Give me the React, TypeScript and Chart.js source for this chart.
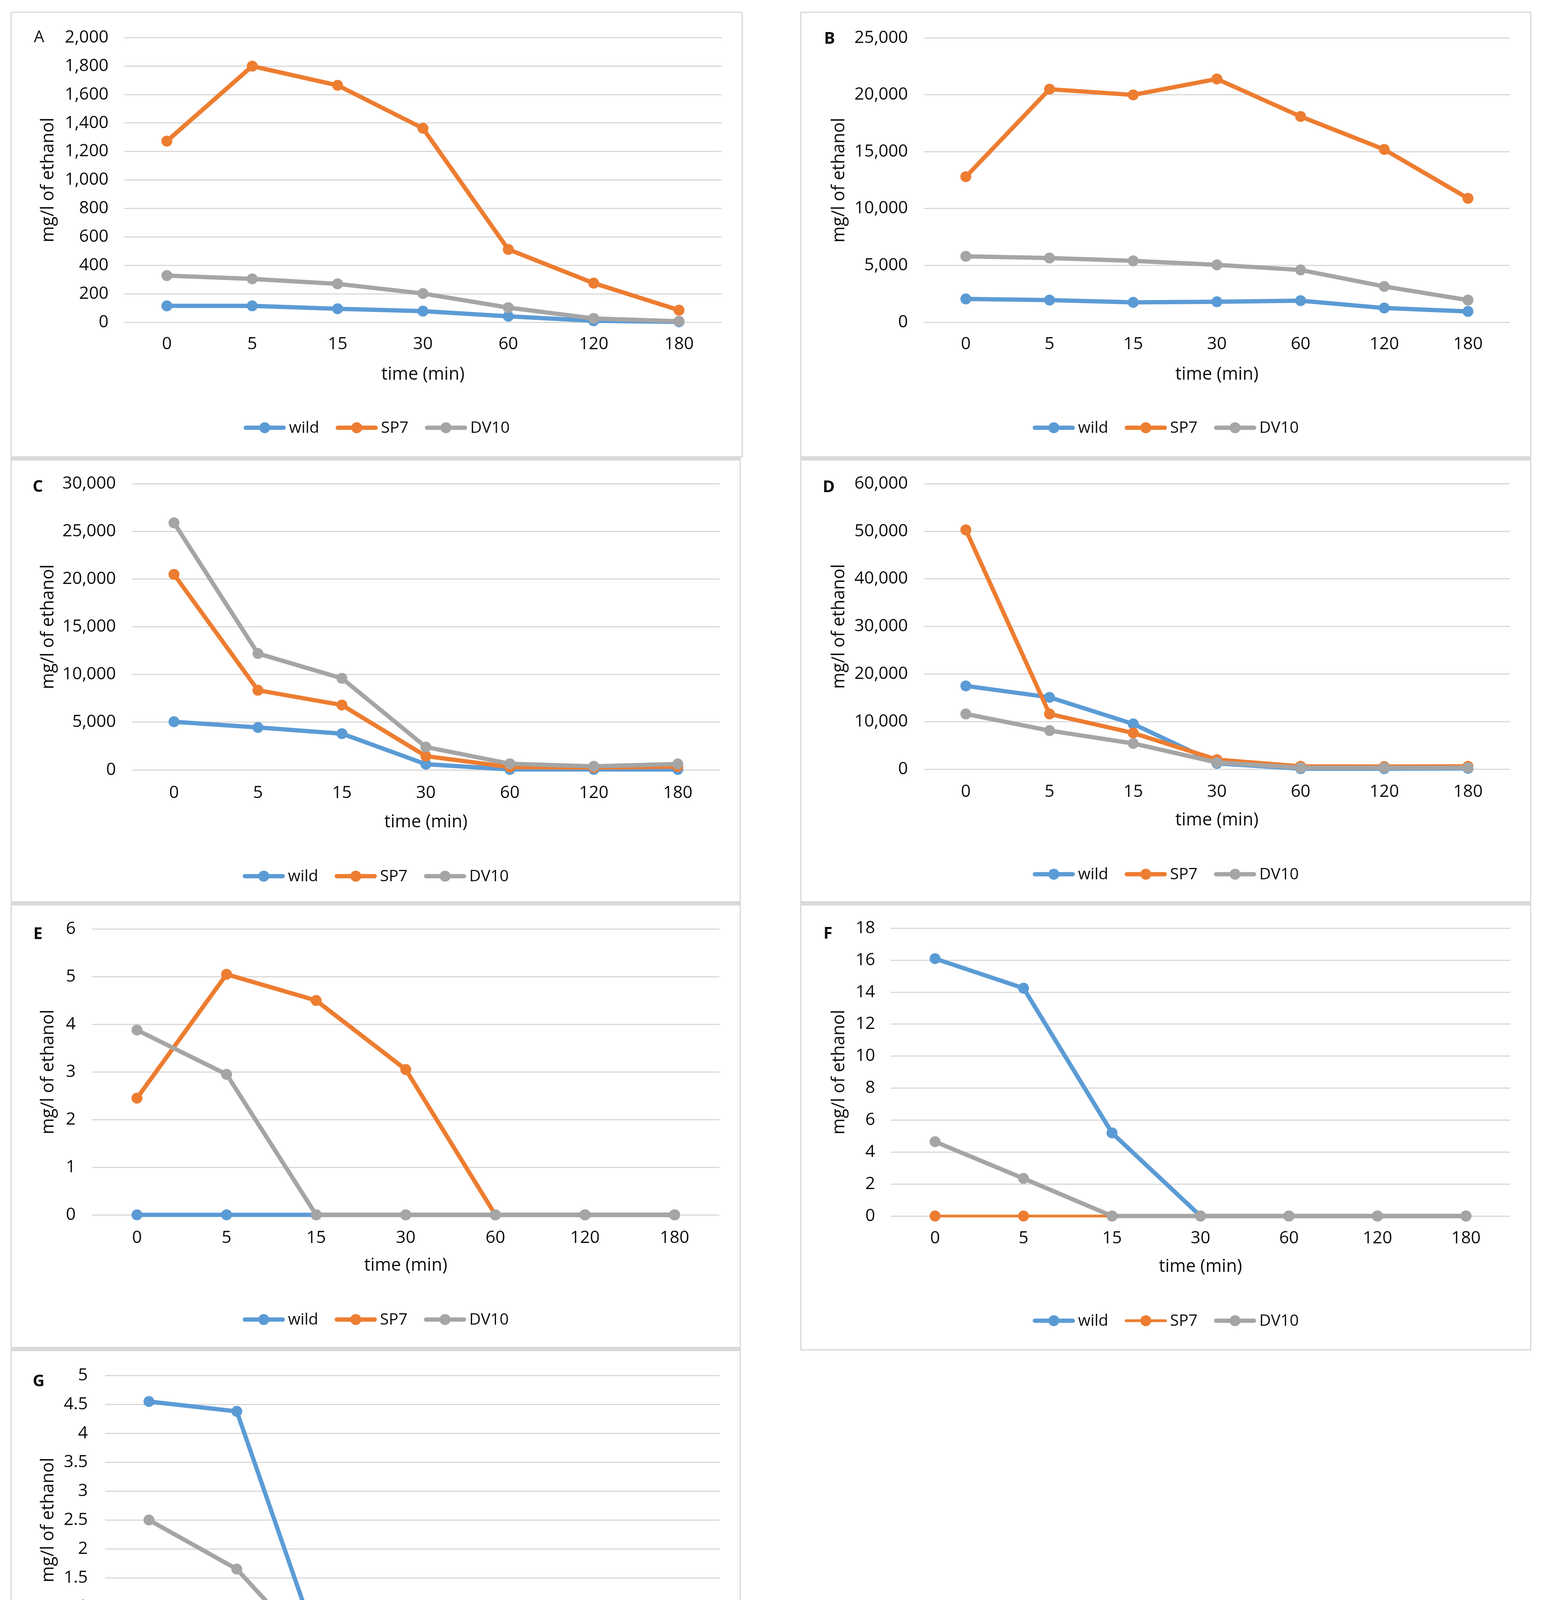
import React, { useEffect, useRef } from 'react';
import { Chart, registerables } from 'chart.js';

Chart.register(...registerables);

// ---------- data ----------
const timeLabels = ['0', '5', '15', '30', '60', '120', '180'];
const seriesNames = ['wild', 'SP7', 'DV10'];
const seriesColors = ['#5B9BD5', '#ED7D31', '#A5A5A5'];

const aWild = [115, 115, 95, 78, 42, 10, 3];
const aSP7 = [1273, 1800, 1665, 1363, 512, 275, 85];
const aDV10 = [328, 305, 270, 202, 103, 27, 7];

const bWild = [2050, 1950, 1750, 1800, 1900, 1250, 950];
const bSP7 = [12800, 20500, 20000, 21400, 18100, 15200, 10900];
const bDV10 = [5800, 5650, 5400, 5050, 4600, 3150, 1950];

const cWild = [5050, 4450, 3800, 600, 50, 50, 50];
const cSP7 = [20500, 8350, 6800, 1450, 300, 250, 350];
const cDV10 = [25900, 12200, 9600, 2400, 650, 380, 620];

const dWild = [17500, 15100, 9500, 1200, 100, 100, 150];
const dSP7 = [50300, 11600, 7600, 2000, 600, 550, 600];
const dDV10 = [11600, 8100, 5400, 1400, 300, 300, 300];

const eWild = [0, 0, 0, 0, 0, 0, 0];
const eSP7 = [2.45, 5.05, 4.5, 3.05, 0, 0, 0];
const eDV10 = [3.88, 2.95, 0, 0, 0, 0, 0];

const fWild = [16.1, 14.25, 5.2, 0, 0, 0, 0];
const fSP7 = [0, 0, 0, 0, 0, 0, 0];
const fDV10 = [4.65, 2.35, 0, 0, 0, 0, 0];

const gWild = [4.55, 4.38, 0, 0, 0, 0, 0];
const gSP7 = [0, 0, 0, 0, 0, 0, 0];
const gDV10 = [2.5, 1.65, 0, 0, 0, 0, 0];

const panelLetters = ['A', 'B', 'C', 'D', 'E', 'F', 'G'];
const yMaxes = [2000, 25000, 30000, 60000, 6, 18, 5];
const ySteps = [200, 5000, 5000, 10000, 1, 2, 0.5];

const xTitle = 'time (min)';
const yTitle = 'mg/l of ethanol';

// ---------- styling / layout ----------
const TEXT = '#0d0d0d';
const GRID = '#D9D9D9';
const FONT = '"Open Sans", "Noto Sans", sans-serif';
const TICK_SIZE = 44;
const TITLE_SIZE = 45;
const LEGEND_SIZE = 41;
const LETTER_SIZE = 42;
const LINE_W = 11;
const THIN_LINE_W = 7;
const PT_R = 12;
const PT_BW = 4;

type Geo = {
  box: number[];
  plot: number[];
  yTickRight: number;
  yTitleX: number;
  xTickY: number;
  xTitleY: number;
  legendY: number;
  letterPos: number[];
  bold: boolean;
  topBorder: number;
  thinSP7: boolean;
};

const geos: Geo[] = [
  { box: [27, 30, 1902, 1171], plot: [318, 84, 1848, 825], yTickRight: 278, yTitleX: 124, xTickY: 881, xTitleY: 959, legendY: 1095, letterPos: [100, 96], bold: false, topBorder: 3, thinSP7: false },
  { box: [2049, 30, 3921, 1171], plot: [2366, 84, 3866, 825], yTickRight: 2325, yTitleX: 2149, xTickY: 881, xTitleY: 959, legendY: 1095, letterPos: [2124, 100], bold: true, topBorder: 3, thinSP7: false },
  { box: [27, 1171, 1897, 2310], plot: [338, 1232, 1843, 1971], yTickRight: 297, yTitleX: 124, xTickY: 2030, xTitleY: 2105, legendY: 2243, letterPos: [97, 1247], bold: true, topBorder: 8, thinSP7: false },
  { box: [2049, 1171, 3921, 2310], plot: [2366, 1230, 3866, 1969], yTickRight: 2325, yTitleX: 2149, xTickY: 2027, xTitleY: 2100, legendY: 2238, letterPos: [2122, 1248], bold: true, topBorder: 8, thinSP7: false },
  { box: [27, 2310, 1897, 3451], plot: [236, 2370, 1842, 3110], yTickRight: 194, yTitleX: 124, xTickY: 3169, xTitleY: 3240, legendY: 3378, letterPos: [97, 2392], bold: true, topBorder: 8, thinSP7: false },
  { box: [2049, 2310, 3921, 3457], plot: [2281, 2372, 3867, 3113], yTickRight: 2241, yTitleX: 2149, xTickY: 3170, xTitleY: 3243, legendY: 3381, letterPos: [2120, 2391], bold: true, topBorder: 8, thinSP7: true },
  { box: [27, 3451, 1897, 4605], plot: [269, 3518, 1843, 4261], yTickRight: 225, yTitleX: 124, xTickY: 4320, xTitleY: 4394, legendY: 4530, letterPos: [99, 3537], bold: true, topBorder: 8, thinSP7: true },
];

const panelSeries = [
  [aWild, aSP7, aDV10],
  [bWild, bSP7, bDV10],
  [cWild, cSP7, cDV10],
  [dWild, dSP7, dDV10],
  [eWild, eSP7, eDV10],
  [fWild, fSP7, fDV10],
  [gWild, gSP7, gDV10],
];

const decorPlugin = {
  id: 'decor',
  afterDraw(chart: any, _args: any, opts: any) {
    const ctx = chart.ctx as CanvasRenderingContext2D;
    ctx.save();
    ctx.fillStyle = TEXT;
    ctx.textBaseline = 'middle';
    ctx.textAlign = 'center';
    ctx.font = `${opts.bold ? 'bold ' : ''}${LETTER_SIZE}px ${FONT}`;
    ctx.fillText(opts.letter, opts.letterX, opts.letterY);

    ctx.font = `${LEGEND_SIZE}px ${FONT}`;
    const items = chart.data.datasets.map((ds: any) => ({
      text: ds.label as string,
      color: ds.borderColor as string,
      lw: ds.borderWidth as number,
      w: ctx.measureText(ds.label).width,
    }));
    const markerW = 108;
    const gapT = 8;
    const gapI = 42;
    const total = items.reduce((s: number, it: any) => s + markerW + gapT + it.w, 0) + gapI * (items.length - 1);
    let x = chart.width / 2 - total / 2;
    const y = opts.legendY;
    for (const it of items) {
      ctx.strokeStyle = it.color;
      ctx.lineWidth = it.lw;
      ctx.lineCap = 'round';
      ctx.beginPath();
      ctx.moveTo(x + it.lw / 2, y);
      ctx.lineTo(x + markerW - it.lw / 2, y);
      ctx.stroke();
      ctx.fillStyle = it.color;
      ctx.beginPath();
      ctx.arc(x + markerW / 2, y, PT_R + PT_BW / 2, 0, Math.PI * 2);
      ctx.fill();
      ctx.fillStyle = TEXT;
      ctx.textAlign = 'left';
      ctx.fillText(it.text, x + markerW + gapT, y + 1);
      x += markerW + gapT + it.w + gapI;
    }
    ctx.restore();
  },
};

function PanelChart({ idx }: { idx: number }) {
  const ref = useRef<HTMLCanvasElement | null>(null);
  const g = geos[idx];
  const ox = g.box[0];
  const oy = g.box[1];
  const W = g.box[2] - g.box[0];
  const H = g.box[3] - g.box[1];

  useEffect(() => {
    if (!ref.current) return;
    const titleLH = TITLE_SIZE * 1.2;
    const tickLH = TICK_SIZE * 1.2;
    const plotL = g.plot[0] - ox;
    const plotT = g.plot[1] - oy;
    const plotR = g.plot[2] - ox;
    const plotB = g.plot[3] - oy;
    const xAxisBottom = g.xTitleY - oy + titleLH / 2;

    const datasets = seriesNames.map((name, i) => {
      const lw = i === 1 && g.thinSP7 ? THIN_LINE_W : LINE_W;
      return {
        label: name,
        data: panelSeries[idx][i],
        borderColor: seriesColors[i],
        backgroundColor: seriesColors[i],
        pointBackgroundColor: seriesColors[i],
        pointBorderColor: seriesColors[i],
        borderWidth: lw,
        pointRadius: PT_R,
        pointBorderWidth: PT_BW,
        tension: 0,
        clip: false as any,
        order: 3 - i,
      };
    });

    const chart = new Chart(ref.current, {
      type: 'line',
      data: { labels: timeLabels, datasets },
      plugins: [decorPlugin as any],
      options: {
        responsive: false,
        maintainAspectRatio: false,
        animation: false,
        devicePixelRatio: 1,
        events: [],
        layout: {
          padding: { left: 0, top: plotT, right: W - plotR, bottom: H - xAxisBottom },
        },
        font: { family: FONT },
        scales: {
          x: {
            type: 'category',
            offset: true,
            grid: { display: false, drawTicks: false },
            border: { display: false },
            ticks: {
              padding: g.xTickY - oy - plotB - tickLH / 2,
              font: { size: TICK_SIZE, family: FONT },
              color: TEXT,
              maxRotation: 0,
              autoSkip: false,
            },
            title: {
              display: true,
              text: xTitle,
              font: { size: TITLE_SIZE, family: FONT },
              color: TEXT,
              padding: 0,
            },
            afterFit: (s: any) => {
              s.height = xAxisBottom - plotB;
            },
          },
          y: {
            min: 0,
            max: yMaxes[idx],
            grid: { color: GRID, lineWidth: 3, drawTicks: false },
            border: { display: false },
            ticks: {
              stepSize: ySteps[idx],
              padding: plotL - (g.yTickRight - ox),
              font: { size: TICK_SIZE, family: FONT },
              color: TEXT,
              callback: (v: any) => Number(v).toLocaleString('en-US'),
            },
            title: {
              display: true,
              text: yTitle,
              font: { size: TITLE_SIZE, family: FONT },
              color: TEXT,
              padding: { top: g.yTitleX - ox - titleLH / 2, bottom: 0 },
            },
            afterFit: (s: any) => {
              s.width = plotL;
            },
          },
        },
        plugins: {
          legend: { display: false },
          tooltip: { enabled: false },
          decor: {
            letter: panelLetters[idx],
            letterX: g.letterPos[0] - ox,
            letterY: g.letterPos[1] - oy,
            bold: g.bold,
            legendY: g.legendY - oy,
          },
        } as any,
      },
    } as any);
    return () => chart.destroy();
  }, [idx]);

  return (
    <>
      <div
        style={{
          position: 'absolute',
          left: ox,
          top: oy,
          width: W,
          height: H,
          boxSizing: 'border-box',
          border: `3px solid ${GRID}`,
          borderTopWidth: g.topBorder,
        }}
      />
      <canvas
        ref={ref}
        width={W}
        height={H}
        style={{ position: 'absolute', left: ox, top: oy, width: W, height: H }}
      />
    </>
  );
}

export default function App() {
  return (
    <div
      style={{
        position: 'absolute',
        left: 0,
        top: 0,
        width: 3951,
        height: 4631,
        background: '#ffffff',
        overflow: 'hidden',
      }}
    >
      {panelLetters.map((_, i) => (
        <PanelChart key={i} idx={i} />
      ))}
    </div>
  );
}
